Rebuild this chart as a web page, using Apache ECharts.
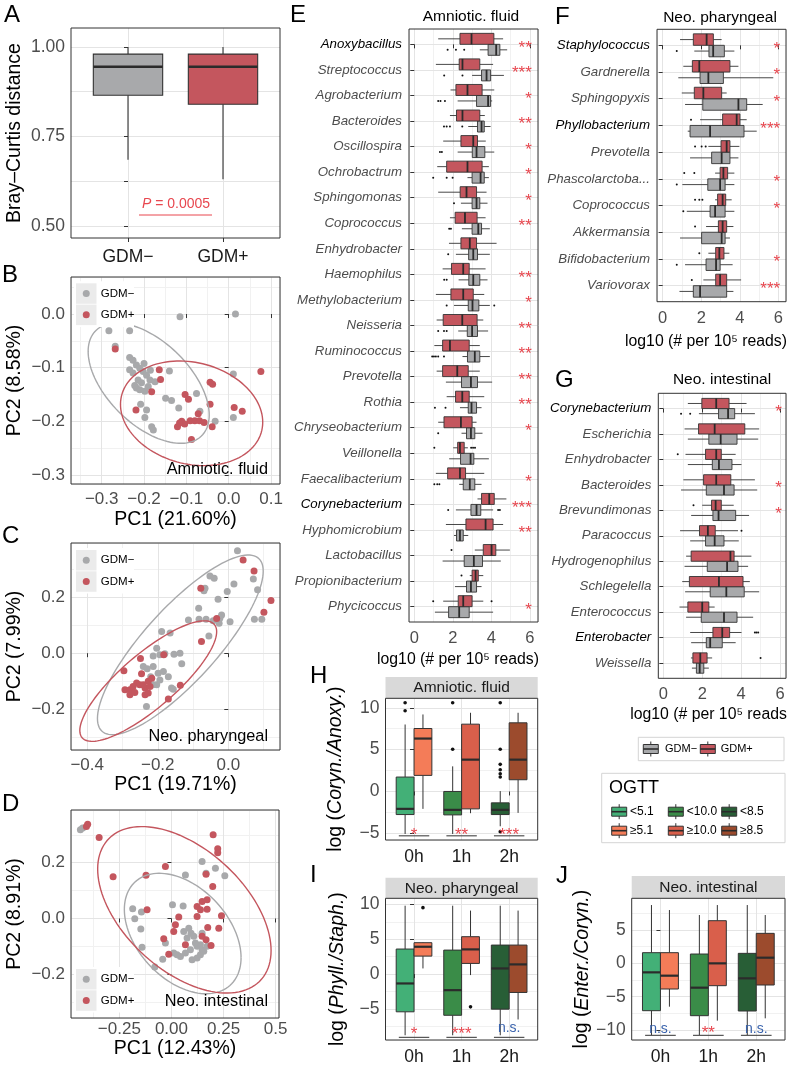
<!DOCTYPE html>
<html><head><meta charset="utf-8">
<script src="https://cdn.jsdelivr.net/npm/echarts@6/dist/echarts.min.js"></script>
<style>html,body{margin:0;padding:0;background:#fff}#c{width:787px;height:1070px}</style>
</head><body><div id="c"></div>
<script>
// ================= DATA =================
const gdmGroups = ['GDM−', 'GDM+'];
// Panel A : Bray-Curtis distance boxes [low, q1, median, q3, high]
const aBoxGdmNeg = [0.685, 0.865, 0.945, 0.98, 1.00];
const aBoxGdmPos = [0.63, 0.84, 0.945, 0.98, 1.00];
const aYTicks = [0.5, 0.625, 0.75, 0.875, 1.0];
const aYLabelTicks = [0.5, 0.75, 1.0];
const aYLabels = ['0.50', '0.75', '1.00'];
const aPText = '{i|P} = 0.0005';

// Panel B : PCoA amniotic fluid
const bGdmNeg = [[-0.115,-0.005],[0.016,0.0],[-0.283,-0.031],[-0.234,-0.031],[-0.268,-0.060],[-0.234,-0.081],[-0.226,-0.086],[-0.200,-0.092],[-0.218,-0.095],[-0.210,-0.101],[-0.234,-0.104],[-0.226,-0.110],[-0.202,-0.107],[-0.194,-0.114],[-0.214,-0.123],[-0.186,-0.123],[-0.174,-0.126],[-0.218,-0.138],[-0.210,-0.141],[-0.198,-0.144],[-0.190,-0.135],[-0.140,-0.106],[0.011,-0.112],[-0.149,-0.157],[-0.135,-0.161],[-0.076,-0.148],[-0.118,-0.175],[-0.068,-0.181],[-0.208,-0.168],[-0.194,-0.179],[-0.198,-0.193],[-0.182,-0.210],[-0.178,-0.216],[-0.032,-0.200],[0.011,-0.193],[-0.222,-0.133],[-0.206,-0.128],[-0.185,-0.105]];
const bGdmPos = [[-0.268,-0.065],[-0.164,-0.104],[-0.161,-0.122],[-0.182,-0.145],[-0.219,-0.179],[-0.103,-0.150],[-0.095,-0.159],[-0.044,-0.127],[-0.038,-0.131],[-0.044,-0.168],[0.076,-0.107],[0.013,-0.174],[0.032,-0.181],[-0.121,-0.210],[-0.111,-0.200],[-0.104,-0.205],[-0.116,-0.203],[-0.091,-0.199],[-0.080,-0.199],[-0.069,-0.199],[-0.072,-0.186],[-0.058,-0.202],[-0.039,-0.210],[-0.088,-0.234]];
// ellipse summaries [centerX, centerY, radiusX, radiusY, correlation]
const bEllipseNeg = [-0.189, -0.129, 0.143, 0.112, -0.53];
const bEllipsePos = [-0.0876, -0.185, 0.168, 0.0975, -0.17];
const bXTicks = [-0.3, -0.2, -0.1, 0, 0.1];
const bXTickLabels = ['−0.3', '−0.2', '−0.1', '0.0', '0.1'];
const bYTicks = [-0.3, -0.2, -0.1, 0];
const bYTickLabels = ['−0.3', '−0.2', '−0.1', '0.0'];

// Panel C : PCoA neonatal pharyngeal
const cGdmNeg = [[0.026,0.367],[-0.052,0.277],[-0.040,0.269],[-0.066,0.233],[-0.069,0.224],[0.071,0.266],[0.016,0.248],[-0.003,0.221],[0.083,0.227],[-0.029,0.193],[-0.084,0.161],[-0.019,0.137],[-0.024,0.125],[-0.113,0.119],[-0.083,0.122],[-0.063,0.122],[-0.043,0.116],[0.005,0.113],[-0.026,0.107],[0.074,0.122],[0.095,0.122],[-0.055,0.062],[-0.189,0.078],[-0.165,0.072],[-0.203,0.018],[-0.213,-0.010],[-0.194,-0.006],[-0.180,-0.002],[-0.154,-0.004],[-0.137,0.0],[-0.132,-0.038],[-0.241,-0.048],[-0.230,-0.056],[-0.213,-0.048],[-0.199,-0.072],[-0.184,-0.066],[-0.170,-0.084],[-0.194,-0.096],[-0.203,-0.113],[-0.161,-0.125],[-0.213,-0.113],[-0.232,-0.191],[-0.156,-0.129],[-0.220,-0.084]];
const cGdmPos = [[0.042,0.334],[0.073,0.295],[-0.078,0.233],[0.121,0.189],[0.101,0.147],[-0.033,0.124],[-0.076,0.042],[-0.183,-0.006],[-0.249,-0.019],[-0.296,-0.063],[-0.246,-0.074],[-0.260,-0.107],[-0.293,-0.131],[-0.279,-0.131],[-0.270,-0.119],[-0.251,-0.113],[-0.236,-0.125],[-0.227,-0.101],[-0.217,-0.090],[-0.236,-0.149],[-0.227,-0.143],[-0.279,-0.149],[-0.241,-0.113],[-0.222,-0.119],[-0.136,-0.115],[-0.170,-0.164],[-0.265,-0.141]];
const cEllipseNeg = [-0.136, 0.030, 0.235, 0.322, 0.82];
const cEllipsePos = [-0.227, -0.100, 0.194, 0.216, 0.82];
const cXTicks = [-0.4, -0.2, 0];
const cXTickLabels = ['−0.4', '−0.2', '0.0'];
const cYTicks = [-0.2, 0, 0.2];
const cYTickLabels = ['−0.2', '0.0', '0.2'];

// Panel D : PCoA neonatal intestinal
const dGdmNeg = [[-0.437,0.318],[-0.426,0.324],[0.147,0.204],[0.211,0.180],[0.256,0.153],[0.067,0.156],[0.166,0.162],[-0.186,0.035],[-0.176,-0.001],[-0.144,0.023],[-0.147,-0.038],[-0.141,-0.103],[0.005,0.049],[0.056,0.045],[0.059,-0.047],[0.083,-0.035],[0.094,-0.053],[0.107,-0.064],[0.075,-0.070],[-0.029,-0.088],[0.011,-0.124],[0.043,-0.136],[0.067,-0.124],[0.091,-0.112],[0.123,-0.100],[0.139,-0.094],[0.147,-0.112],[0.123,-0.142],[0.099,-0.148],[0.139,-0.130],[0.155,-0.118],[0.171,-0.100],[-0.042,-0.146],[-0.080,-0.174],[0.147,-0.053],[0.027,-0.130],[0.115,-0.088]];
const dGdmPos = [[-0.408,0.330],[-0.402,0.338],[-0.347,0.290],[-0.280,0.150],[-0.122,0.155],[-0.029,0.186],[0.200,0.300],[0.222,0.250],[0.222,0.236],[0.166,0.159],[0.198,0.115],[0.147,0.061],[0.171,0.067],[0.123,0.043],[0.139,0.031],[0.171,0.033],[0.123,0.007],[0.240,0.010],[-0.117,0.031],[0.035,0.005],[0.019,-0.023],[0.011,-0.047],[-0.037,-0.073],[0.174,-0.032],[0.227,-0.035],[0.147,-0.064],[0.166,-0.076],[0.190,-0.097],[0.067,-0.094],[-0.013,-0.128]];
const dEllipseNeg = [0.054, -0.054, 0.28, 0.216, -0.40];
const dEllipsePos = [0.062, 0.031, 0.416, 0.2985, -0.49];
const dXTicks = [-0.25, 0, 0.25, 0.5];
const dXTickLabels = ['−0.25', '0.00', '0.25', '0.5'];
const dYTicks = [-0.2, 0, 0.2];
const dYTickLabels = ['−0.2', '0.0', '0.2'];

// Abundance axis (E, F, G)
const abundTicks = [0, 2, 4, 6];
const abundTickLabels = ['0', '2', '4', '6'];

// Panel E : amniotic fluid genera, boxes [low, q1, median, q3, high]
const eGenera = ['Anoxybacillus','Streptococcus','Agrobacterium','Bacteroides','Oscillospira','Ochrobactrum','Sphingomonas','Coprococcus','Enhydrobacter','Haemophilus','Methylobacterium','Neisseria','Ruminococcus','Prevotella','Rothia','Chryseobacterium','Veillonella','Faecalibacterium','Corynebacterium','Hyphomicrobium','Lactobacillus','Propionibacterium','Phycicoccus'];
const eHighlight = ['Anoxybacillus', 'Corynebacterium'];
const eGdmPos = [[1.24,2.37,2.97,4.13,4.61],[1.12,2.33,2.50,3.40,4.09],[1.88,2.16,2.76,3.52,4.15],[1.85,2.19,2.50,3.40,3.66],[1.50,2.42,3.06,3.28,3.71],[1.19,1.68,2.76,3.52,3.87],[1.24,2.38,2.71,3.23,3.75],[1.85,2.12,2.63,3.26,3.70],[1.80,2.42,2.88,3.23,4.27],[1.47,1.93,2.54,2.85,3.70],[1.12,1.90,2.54,3.06,3.63],[1.16,1.50,2.49,3.26,3.58],[1.04,1.47,1.85,2.85,3.40],[1.16,1.47,2.23,2.80,3.40],[1.68,2.14,2.49,2.85,3.63],[1.24,1.54,2.42,3.00,3.23],[2.02,2.25,2.37,2.59,2.78],[1.12,1.73,2.37,2.66,3.63],[3.28,3.49,3.89,4.15,4.78],[1.64,2.68,3.70,4.09,4.61],[3.14,3.58,4.01,4.23,4.96],[2.88,3.00,3.18,3.32,3.58],[1.50,2.28,2.54,3.00,3.58]];
const eGdmNeg = [[3.40,3.83,4.25,4.44,4.82],[3.00,3.49,3.75,3.96,4.65],[2.25,3.23,3.83,3.96,4.04],[2.80,3.28,3.49,3.63,3.96],[2.25,3.01,3.23,3.66,4.15],[2.76,3.00,3.44,3.63,3.87],[2.42,3.00,3.23,3.40,3.80],[2.47,3.00,3.32,3.49,3.92],[2.16,2.82,3.06,3.28,3.92],[2.30,2.83,3.06,3.40,3.80],[2.06,2.80,3.02,3.35,3.92],[2.28,2.75,3.00,3.28,3.83],[2.50,2.76,3.14,3.40,3.92],[1.64,2.45,2.94,3.28,4.04],[2.37,2.80,2.97,3.23,3.49],[2.45,2.71,2.94,3.14,3.54],[1.81,2.40,2.92,3.09,3.87],[2.33,2.54,2.88,3.14,3.49],[2.16,2.94,3.23,3.45,4.09],[2.06,2.19,2.37,2.54,2.80],[1.47,2.59,3.09,3.54,4.49],[2.11,2.71,2.94,3.23,3.49],[1.07,1.78,2.33,2.85,4.09]];
const eOutPos = [[16,1.04],[16,2.95],[16,3.05],[16,3.15],[20,1.93],[21,2.45],[22,0.98],[22,4.01]];
const eOutNeg = [[0,1.73],[0,2.16],[0,2.59],[1,1.55],[1,2.50],[2,1.24],[2,1.36],[2,1.59],[3,1.54],[3,1.68],[3,1.85],[3,2.49],[4,1.33],[4,1.43],[5,0.98],[5,1.68],[5,1.99],[6,2.06],[7,1.81],[7,1.90],[8,1.76],[9,1.55],[9,1.68],[10,1.68],[10,4.15],[11,1.24],[11,1.54],[11,1.68],[12,0.93],[12,1.02],[12,1.12],[12,1.24],[12,1.54],[14,1.07],[14,1.62],[15,1.24],[17,1.04],[17,1.19],[17,1.30],[18,1.76],[18,4.35],[18,4.44]];
const eStars = ['**','***','*','**','*','*','*','**','','**','*','**','**','**','**','*','','*','***','**','','','*'];

// Panel F : neonatal pharyngeal genera
const fGenera = ['Staphylococcus','Gardnerella','Sphingopyxis','Phyllobacterium','Prevotella','Phascolarctoba...','Coprococcus','Akkermansia','Bifidobacterium','Variovorax'];
const fHighlight = ['Staphylococcus', 'Phyllobacterium'];
const fGdmPos = [[0.90,1.59,2.28,2.63,3.06],[1.07,1.54,1.90,3.49,3.93],[0.99,1.64,2.11,3.06,3.32],[1.94,3.11,3.84,4.01,4.36],[2.37,3.03,3.32,3.49,3.98],[2.72,2.98,3.15,3.37,3.72],[2.72,2.85,3.11,3.27,3.58],[2.25,2.89,3.11,3.32,3.67],[2.37,2.75,2.94,3.18,3.46],[2.11,2.75,2.98,3.32,4.07]];
const fGdmNeg = [[1.64,2.40,2.62,3.20,3.72],[0.81,1.94,2.37,3.15,5.74],[1.16,2.08,3.93,4.36,5.19],[1.30,1.42,2.46,4.22,4.88],[1.42,2.54,3.06,3.49,3.93],[1.02,2.34,2.98,3.24,3.72],[1.25,2.46,2.72,3.24,3.72],[0.90,2.02,3.06,3.24,3.49],[1.16,2.25,2.77,2.98,3.63],[0.87,1.59,1.94,3.32,3.67]];
const fOutPos = [[3,1.47],[4,1.68],[4,2.02],[4,2.23],[5,1.12],[5,1.64],[6,1.68],[6,1.90],[6,2.06],[7,1.68],[8,1.90],[9,1.51]];
const fOutNeg = [[0,0.73],[5,0.73],[6,1.07],[8,0.73]];
const fStars = ['*','*','*','***','','*','*','','*','***'];

// Panel G : neonatal intestinal genera
const gGenera = ['Corynebacterium','Escherichia','Enhydrobacter','Bacteroides','Brevundimonas','Paracoccus','Hydrogenophilus','Schlegelella','Enterococcus','Enterobacter','Weissella'];
const gHighlight = ['Corynebacterium', 'Enterobacter'];
const gGdmPos = [[1.26,1.98,2.72,3.38,4.28],[1.09,1.81,2.64,4.19,4.93],[1.14,2.17,2.72,2.98,3.72],[1.03,2.07,2.72,3.47,4.71],[2.00,2.48,2.69,2.98,3.62],[0.86,1.86,2.29,2.67,3.84],[1.17,1.43,3.45,3.64,4.53],[0.97,1.34,2.86,4.10,4.45],[0.83,1.26,2.00,2.34,2.64],[1.38,2.55,3.03,3.41,4.02],[1.42,1.52,1.90,2.25,2.51]];
const gGdmNeg = [[1.83,2.84,3.33,3.67,4.71],[1.26,2.34,2.95,3.79,4.88],[1.26,2.52,2.86,3.53,4.02],[0.91,2.21,3.12,3.64,4.83],[1.43,2.55,2.84,3.72,4.41],[1.38,2.17,2.64,3.12,3.88],[1.09,2.26,3.28,3.84,4.36],[1.12,2.41,3.24,4.16,4.93],[1.17,1.95,3.12,3.79,4.62],[1.43,2.21,2.41,3.03,3.72],[1.47,1.70,1.87,2.08,2.34]];
const gOutPos = [[2,0.74],[4,1.55],[5,4.02],[9,4.71],[9,4.79],[9,4.88],[10,5.0]];
const gOutNeg = [[0,0.91],[0,1.38]];
const gStars = ['*','','','*','*','','','','','',''];

// OGTT panels H, I, J
const ogttTimes = ['0h', '1h', '2h'];
const ogttLowLabels = ['<5.1', '<10.0', '<8.5'];
const ogttHighLabels = ['≥5.1', '≥10.0', '≥8.5'];
const hLow  = [[-5.08,-2.76,-2.08,1.72,8.0],[-5.08,-2.8,-2.2,0.0,3.0],[-4.16,-2.76,-2.2,-1.36,0.04]];
const hHigh = [[-2.08,1.92,6.32,7.52,9.2],[-2.6,-2.08,3.8,8.04,9.4],[-2.56,1.4,3.8,8.2,9.4]];
const hOutLow = [[0,10.6],[0,9.64],[1,10.6],[1,5.04],[2,10.6],[2,5.04],[2,3.24],[2,2.6],[2,2.12],[2,1.72],[2,-4.8]];
const hSig = ['*', '**', '***'];
const hYTicks = [-5, 0, 5, 10];
const hYTickLabels = ['−5', '0', '5', '10'];
const iLow  = [[-8.76,-5.4,-1.34,3.59,9.8],[-8.76,-5.9,-2.3,3.44,9.8],[-8.76,-5.02,0.81,4.16,9.8]];
const iHigh = [[0.81,2.58,3.92,4.5,4.55],[-0.14,1.53,3.54,5.36,9.1],[-6.5,-2.63,1.39,4.16,9.1]];
const iOutHigh = [[0,9.52],[1,-4.69]];
const iSig = ['*', '***', 'n.s.'];
const iYTicks = [-5, 0, 5, 10];
const iYTickLabels = ['−5', '0', '5', '10'];
const jLow  = [[-10.75,-7.1,-1.35,1.6,8.75],[-10.75,-7.85,-3.65,1.4,7.25],[-10.75,-7.15,-2.25,1.5,8.75]];
const jHigh = [[-6.5,-3.85,-1.85,1.6,8.0],[-8.6,-3.35,0.0,6.4,8.75],[-8.25,-3.25,0.85,4.5,7.25]];
const jSig = ['n.s.', '**', 'n.s.'];
const jYTicks = [-10, -5, 0, 5];
const jYTickLabels = ['−10', '−5', '0', '5'];

// ================= STYLE =================
const FONT = '"Liberation Sans", Arial, Helvetica, sans-serif';
const RED = '#C4565E', GRAY = '#A8A9AB', STAR = '#E8474F', NS = '#3B64AD';
const OGTT_LOW = ['#43B077', '#3A8C48', '#285E36'];
const OGTT_HIGH = ['#F47C58', '#D95F4B', '#9C4B2D'];
const MAJOR = '#e4e4e4', MINOR = '#f1f1f1';

const grids = [], xAxis = [], yAxis = [], series = [], graphic = [];

function fmtFrom(ticks, labels) {
  return v => { const i = ticks.findIndex(t => Math.abs(t - v) < 1e-7); return i < 0 ? '' : labels[i]; };
}
function makeAxis(gi, o, position) {
  const lt = o.labelTicks || o.ticks;
  return {
    type: 'value', gridIndex: gi, position, min: o.min, max: o.max, inverse: !!o.inverse, z: 2,
    minInterval: o.step, maxInterval: o.step,
    axisLine: { show: false },
    axisTick: { show: true, length: 4, customValues: o.ticks, lineStyle: { color: '#333', width: 1 } },
    axisLabel: { show: true, customValues: lt, formatter: fmtFrom(lt, o.labels), color: o.color || '#4d4d4d',
      fontSize: o.fontSize || 17, fontFamily: FONT, margin: o.margin == null ? 6 : o.margin, rich: o.rich },
    splitLine: { show: true, lineStyle: { color: MAJOR, width: 1 } },
    minorTick: { show: false }, minorSplitLine: { show: false },
    name: o.name || '', nameLocation: 'middle', nameGap: o.nameGap || 0, nameRotate: o.nameRotate,
    nameTextStyle: { color: '#000', fontSize: o.nameSize || 19.5, fontFamily: FONT, rich: o.nameRich, padding: o.namePadding || 0 }
  };
}
function minorAxis(gi, o, position) {
  return { type: 'value', gridIndex: gi, position, min: o.min, max: o.max, inverse: !!o.inverse, z: 1,
    minInterval: o.minor, maxInterval: o.minor,
    axisLine: { show: false }, axisTick: { show: false }, axisLabel: { show: false },
    splitLine: { show: true, lineStyle: { color: MINOR, width: 1 } } };
}
function panel(box, xo, yo) {
  const gi = grids.length;
  grids.push({ left: box.left, top: box.top, width: box.width, height: box.height, show: false,
    containLabel: false, outerBoundsMode: 'none' });
  const xi = xAxis.length; xAxis.push(makeAxis(gi, xo, 'bottom'));
  const yi = yAxis.length; yAxis.push(makeAxis(gi, yo, 'left'));
  if (xo.minor) xAxis.push(minorAxis(gi, xo, 'top'));
  if (yo.minor) yAxis.push(minorAxis(gi, yo, 'right'));
  graphic.push({ type: 'rect', z: 100, silent: true,
    shape: { x: box.left, y: box.top, width: box.width, height: box.height },
    style: { fill: 'none', stroke: '#333', lineWidth: 1 } });
  return { xi, yi };
}
function boxSeries(P, rows, o) {
  return {
    type: 'custom', xAxisIndex: P.xi, yAxisIndex: P.yi, z: 3, silent: true,
    encode: o.horizontal ? { x: [1, 2, 3, 4, 5], y: 0 } : { x: 0, y: [1, 2, 3, 4, 5] },
    data: rows.map((r, i) => [i].concat(r)),
    renderItem(params, api) {
      const idx = api.value(0);
      const pos = idx + o.offset;
      const pt = v => o.horizontal ? api.coord([v, pos]) : api.coord([pos, v]);
      const sz = o.horizontal ? api.size([0, o.width])[1] : api.size([o.width, 0])[0];
      const h = sz / 2;
      const lo = pt(api.value(1)), q1 = pt(api.value(2)), md = pt(api.value(3)), q3 = pt(api.value(4)), hi = pt(api.value(5));
      const fill = typeof o.fill === 'function' ? o.fill(Math.round(idx)) : o.fill;
      const lw = o.lineWidth || 1;
      const ls = { stroke: '#333', lineWidth: lw };
      const ms = { stroke: '#2b2b2b', lineWidth: o.medianWidth || 2 };
      const ch = [];
      if (o.horizontal) {
        const c = md[1];
        ch.push({ type: 'line', shape: { x1: lo[0], y1: c, x2: q1[0], y2: c }, style: ls });
        ch.push({ type: 'line', shape: { x1: q3[0], y1: c, x2: hi[0], y2: c }, style: ls });
        ch.push({ type: 'rect', shape: { x: q1[0], y: c - h, width: q3[0] - q1[0], height: 2 * h }, style: { fill, stroke: '#333', lineWidth: lw } });
        ch.push({ type: 'line', shape: { x1: md[0], y1: c - h, x2: md[0], y2: c + h }, style: ms });
      } else {
        const c = md[0];
        ch.push({ type: 'line', shape: { x1: c, y1: lo[1], x2: c, y2: q1[1] }, style: ls });
        ch.push({ type: 'line', shape: { x1: c, y1: q3[1], x2: c, y2: hi[1] }, style: ls });
        ch.push({ type: 'rect', shape: { x: c - h, y: q3[1], width: 2 * h, height: q1[1] - q3[1] }, style: { fill, stroke: '#333', lineWidth: lw } });
        ch.push({ type: 'line', shape: { x1: c - h, y1: md[1], x2: c + h, y2: md[1] }, style: ms });
      }
      return { type: 'group', children: ch };
    }
  };
}
function outlierSeries(P, pts, o) {
  return {
    type: 'custom', xAxisIndex: P.xi, yAxisIndex: P.yi, z: 4, silent: true,
    encode: o.horizontal ? { x: 1, y: 0 } : { x: 0, y: 1 }, data: pts,
    renderItem(params, api) {
      const pos = api.value(0) + o.offset, v = api.value(1);
      const p = o.horizontal ? api.coord([v, pos]) : api.coord([pos, v]);
      return { type: 'circle', shape: { cx: p[0], cy: p[1], r: o.r }, style: { fill: '#111' } };
    }
  };
}
function starSeries(P, stars, xPos) {
  const data = []; stars.forEach((s, i) => { if (s) data.push([xPos, i]); });
  return {
    type: 'custom', xAxisIndex: P.xi, yAxisIndex: P.yi, z: 5, silent: true, encode: { x: 0, y: 1 }, data,
    renderItem(params, api) {
      const i = Math.round(api.value(1));
      const p = api.coord([api.value(0), i]);
      return { type: 'text', x: p[0], y: p[1] + 3.5,
        style: { text: stars[i], fill: STAR, fontSize: 17, fontFamily: FONT, align: 'right', verticalAlign: 'middle' } };
    }
  };
}
function sigSeries(P, labels, lineY, starDy, nsDy) {
  return {
    type: 'custom', xAxisIndex: P.xi, yAxisIndex: P.yi, z: 5, silent: true, encode: { x: 0, y: 1 },
    data: labels.map((s, i) => [i, lineY]),
    renderItem(params, api) {
      const i = Math.round(api.value(0));
      const a = api.coord([i - 0.32, api.value(1)]), b = api.coord([i + 0.32, api.value(1)]);
      const lab = labels[i], ns = lab === 'n.s.';
      return { type: 'group', children: [
        { type: 'line', shape: { x1: a[0], y1: a[1], x2: b[0], y2: b[1] }, style: { stroke: '#444', lineWidth: 1.1 } },
        { type: 'text', x: (a[0] + b[0]) / 2, y: a[1] + (ns ? nsDy : starDy),
          style: { text: lab, fill: ns ? NS : STAR, fontSize: ns ? 14 : 17, fontFamily: FONT, align: 'center', verticalAlign: 'middle' } }
      ] };
    }
  };
}
function scatterSeries(P, pts, color) {
  return { type: 'scatter', xAxisIndex: P.xi, yAxisIndex: P.yi, data: pts, symbol: 'circle', symbolSize: 7,
    itemStyle: { color, opacity: 1 }, z: 3, silent: true };
}
function ellipseSeries(P, par, color) {
  return {
    type: 'custom', xAxisIndex: P.xi, yAxisIndex: P.yi, z: 4, silent: true, encode: { x: 0, y: 1 }, data: [par],
    renderItem(params, api) {
      const cx = api.value(0), cy = api.value(1), rx = api.value(2), ry = api.value(3), rho = api.value(4);
      const s = Math.sqrt(1 - rho * rho), pts = [];
      for (let k = 0; k <= 120; k++) {
        const t = 2 * Math.PI * k / 120;
        pts.push(api.coord([cx + rx * Math.cos(t), cy + ry * (rho * Math.cos(t) + s * Math.sin(t))]));
      }
      return { type: 'polyline', shape: { points: pts }, style: { stroke: color, lineWidth: 1.4, fill: null } };
    }
  };
}
const range = n => Array.from({ length: n }, (_, i) => i);
const RICH_NAMES = {
  b: { color: '#000', fontStyle: 'italic', fontSize: 13.3, fontFamily: FONT },
  g: { color: '#4d4d4d', fontStyle: 'italic', fontSize: 13.3, fontFamily: FONT }
};
const richNames = (names, hl) => names.map(n => hl.includes(n) ? '{b|' + n + '}' : '{g|' + n + '}');
const ITAL19 = { i: { fontStyle: 'italic', fontSize: 19.5, color: '#000', fontFamily: FONT } };

// ================= PANELS =================
const BOX = {
  A: { left: 71, top: 28, width: 209, height: 210 },
  B: { left: 71, top: 277, width: 209, height: 207 },
  C: { left: 71, top: 543, width: 209, height: 207 },
  D: { left: 71, top: 810, width: 208, height: 208 },
  E: { left: 409, top: 29, width: 129, height: 593 },
  F: { left: 657, top: 29.3, width: 129, height: 272.4 },
  G: { left: 658.3, top: 393.3, width: 127.7, height: 285 },
  H: { left: 385.5, top: 698.3, width: 152.2, height: 141.7 },
  I: { left: 385.5, top: 898.3, width: 152.2, height: 141.7 },
  J: { left: 631.7, top: 898.3, width: 153.3, height: 141.7 }
};

// A
const PA = panel(BOX.A,
  { min: -0.6, max: 1.6, step: 1, ticks: [0, 1], labels: gdmGroups, color: '#1a1a1a', fontSize: 17.5, margin: 10 },
  { min: 0.466, max: 1.053, step: 0.125, ticks: aYTicks, labelTicks: aYLabelTicks, labels: aYLabels, fontSize: 17.5, margin: 6,
    name: 'Bray–Curtis distance', nameGap: 46, nameRotate: 90 });
series.push(boxSeries(PA, [aBoxGdmNeg, aBoxGdmPos], { horizontal: false, offset: 0, width: 0.73, fill: i => [GRAY, RED][i], lineWidth: 1.1, medianWidth: 2.5 }));

// B, C, D
const PB = panel(BOX.B,
  { min: -0.3725, max: 0.1212, step: 0.1, minor: 0.05, ticks: bXTicks, labels: bXTickLabels, margin: 7, name: 'PC1 (21.60%)', nameGap: 26 },
  { min: -0.3168, max: 0.069, step: 0.1, minor: 0.05, ticks: bYTicks, labels: bYTickLabels, margin: 6, name: 'PC2 (8.58%)', nameGap: 46, nameRotate: 90 });
series.push(scatterSeries(PB, bGdmNeg, GRAY), scatterSeries(PB, bGdmPos, RED), ellipseSeries(PB, bEllipseNeg, GRAY), ellipseSeries(PB, bEllipsePos, RED));
const PC = panel(BOX.C,
  { min: -0.446, max: 0.1466, step: 0.2, minor: 0.1, ticks: cXTicks, labels: cXTickLabels, margin: 7, name: 'PC1 (19.71%)', nameGap: 23 },
  { min: -0.347, max: 0.395, step: 0.2, minor: 0.1, ticks: cYTicks, labels: cYTickLabels, margin: 6, name: 'PC2 (7.99%)', nameGap: 46, nameRotate: 90 });
series.push(scatterSeries(PC, cGdmNeg, GRAY), scatterSeries(PC, cGdmPos, RED), ellipseSeries(PC, cEllipseNeg, GRAY), ellipseSeries(PC, cEllipsePos, RED));
const PD = panel(BOX.D,
  { min: -0.482, max: 0.516, step: 0.25, minor: 0.125, ticks: dXTicks, labels: dXTickLabels, margin: 3, name: 'PC1 (12.43%)', nameGap: 20 },
  { min: -0.357, max: 0.389, step: 0.2, minor: 0.1, ticks: dYTicks, labels: dYTickLabels, margin: 6, name: 'PC2 (8.91%)', nameGap: 46, nameRotate: 90 });
series.push(scatterSeries(PD, dGdmNeg, GRAY), scatterSeries(PD, dGdmPos, RED), ellipseSeries(PD, dEllipseNeg, GRAY), ellipseSeries(PD, dEllipsePos, RED));

// E, F, G
const ABX = 'log10 (# per 10⁵ reads)';
function generaPanel(box, xr, names, hl, pos, neg, outPos, outNeg, stars, w, nameGap, padR) {
  const P = panel(box,
    { min: xr[0], max: xr[1], step: 2, minor: 1, ticks: abundTicks, labels: abundTickLabels, fontSize: 16.5, margin: 8,
      name: ABX, nameGap, nameSize: 15.8, namePadding: [0, padR, 0, 0] },
    { min: -0.6, max: names.length - 0.4, inverse: true, step: 1, ticks: range(names.length), labels: richNames(names, hl), rich: RICH_NAMES, margin: 7 });
  series.push(boxSeries(P, neg, { horizontal: true, offset: w / 2, width: w, fill: GRAY, lineWidth: 0.9, medianWidth: 1.8 }));
  series.push(boxSeries(P, pos, { horizontal: true, offset: -w / 2, width: w, fill: RED, lineWidth: 0.9, medianWidth: 1.8 }));
  series.push(outlierSeries(P, outNeg, { horizontal: true, offset: w / 2, r: 1.0 }));
  series.push(outlierSeries(P, outPos, { horizontal: true, offset: -w / 2, r: 1.0 }));
  series.push(starSeries(P, stars, 6.1));
}
generaPanel(BOX.E, [-0.275, 6.42], eGenera, eHighlight, eGdmPos, eGdmNeg, eOutPos, eOutNeg, eStars, 0.43, 28, 31);
generaPanel(BOX.F, [-0.296, 6.40], fGenera, fHighlight, fGdmPos, fGdmNeg, fOutPos, fOutNeg, fStars, 0.43, 32, 31);
generaPanel(BOX.G, [-0.26, 6.31], gGenera, gHighlight, gGdmPos, gGdmNeg, gOutPos, gOutNeg, gStars, 0.40, 28, 22);

// H, I, J
function ogttPanel(box, yr, ticks, labels, low, high, name, nameGap) {
  const P = panel(box,
    { min: -0.6, max: 2.6, step: 1, ticks: [0, 1, 2], labels: ogttTimes, color: '#1a1a1a', fontSize: 17.5, margin: 8 },
    { min: yr[0], max: yr[1], step: 5, minor: 2.5, ticks, labels, fontSize: 17.5, margin: 6, name, nameRich: ITAL19, nameGap, nameRotate: 90 });
  series.push(boxSeries(P, low, { horizontal: false, offset: -0.1875, width: 0.375, fill: i => OGTT_LOW[i], lineWidth: 1, medianWidth: 2.2 }));
  series.push(boxSeries(P, high, { horizontal: false, offset: 0.1875, width: 0.375, fill: i => OGTT_HIGH[i], lineWidth: 1, medianWidth: 2.2 }));
  return P;
}
const PH = ogttPanel(BOX.H, [-5.8, 11.13], hYTicks, hYTickLabels, hLow, hHigh, 'log ({i|Coryn./Anoxy.})', 40);
series.push(outlierSeries(PH, hOutLow, { horizontal: false, offset: -0.1875, r: 1.8 }));
series.push(sigSeries(PH, hSig, -5.3, -1, -7));
const PI = ogttPanel(BOX.I, [-9.44, 10.86], iYTicks, iYTickLabels, iLow, iHigh, 'log ({i|Phyll./Staph.})', 38);
series.push(outlierSeries(PI, iOutHigh, { horizontal: false, offset: 0.1875, r: 1.8 }));
series.push(sigSeries(PI, iSig, -9.06, -3, -9));
const PJ = ogttPanel(BOX.J, [-11.5, 9.76], jYTicks, jYTickLabels, jLow, jHigh, 'log ({i|Enter./Coryn.})', 35);
series.push(sigSeries(PJ, jSig, -10.8, -2, -6.5));

// ================= ANNOTATIONS =================
function txt(x, y, text, size, extra) {
  return Object.assign({ type: 'text', x, y, z: 60, silent: true,
    style: Object.assign({ text, fill: '#000', fontSize: size, fontFamily: FONT, align: 'left', verticalAlign: 'middle' }, extra || {}) });
}
// panel letters
[['A', 4, 15], ['B', 2, 275], ['C', 2, 536], ['D', 2, 804], ['E', 290, 15], ['F', 555, 17.5],
 ['G', 555, 380], ['H', 310, 676], ['I', 310, 875], ['J', 556, 876]].forEach(l => graphic.push(txt(l[1], l[2], l[0], 24)));
// titles
graphic.push(txt(471, 17, 'Amniotic. fluid', 15.5, { align: 'center' }));
graphic.push(txt(720, 18, 'Neo. pharyngeal', 15.5, { align: 'center' }));
graphic.push(txt(722, 380, 'Neo. intestinal', 15.5, { align: 'center' }));
// in-plot labels
graphic.push(txt(268, 470, 'Amniotic. fluid', 16.3, { align: 'right' }));
graphic.push(txt(268, 737, 'Neo. pharyngeal', 16.3, { align: 'right' }));
graphic.push(txt(268, 1002, 'Neo. intestinal', 16.3, { align: 'right' }));
// P value in A
graphic.push(txt(176, 204, aPText, 14, { align: 'center', fill: STAR,
  rich: { i: { fontStyle: 'italic', fontSize: 14, fill: STAR, color: STAR, fontFamily: FONT } } }));
graphic.push({ type: 'line', z: 60, silent: true, shape: { x1: 139, y1: 215, x2: 212, y2: 215 }, style: { stroke: STAR, lineWidth: 1 } });
// strips
[[BOX.H, 'Amniotic. fluid', 677], [BOX.I, 'Neo. pharyngeal', 877.7], [BOX.J, 'Neo. intestinal', 876]].forEach(s => {
  const b = s[0];
  graphic.push({ type: 'rect', z: 55, silent: true, shape: { x: b.left, y: s[2], width: b.width, height: b.top - s[2] }, style: { fill: '#d9d9d9' } });
  graphic.push(txt(b.left + b.width / 2, (s[2] + b.top) / 2 + 0.5, s[1], 15.5, { align: 'center', fill: '#1a1a1a' }));
});
// scatter legends
function scatterLegend(x0, y0) {
  const cell = 21.3;
  graphic.push({ type: 'rect', z: 50, silent: true, shape: { x: x0 - 2, y: y0 - 2, width: 60, height: 2 * cell + 3 }, style: { fill: '#fff' } });
  gdmGroups.forEach((g, k) => {
    const cy = y0 + k * cell;
    graphic.push({ type: 'rect', z: 51, silent: true, shape: { x: x0, y: cy, width: cell - 0.8, height: cell - 0.8 }, style: { fill: '#ebebeb' } });
    graphic.push({ type: 'circle', z: 52, silent: true, shape: { cx: x0 + cell / 2 - 0.4, cy: cy + cell / 2 - 0.4, r: 3.5 }, style: { fill: k ? RED : GRAY } });
    graphic.push(txt(x0 + cell + 3.5, cy + cell / 2 - 0.4, g, 11.5));
  });
}
scatterLegend(76, 283.3); scatterLegend(76, 550); scatterLegend(76, 969);
// box legend icons
function boxIcon(cx, cy, fill) {
  const st = { stroke: '#333', lineWidth: 1 };
  graphic.push({ type: 'line', z: 61, silent: true, shape: { x1: cx, y1: cy - 7.5, x2: cx, y2: cy + 7.5 }, style: st });
  graphic.push({ type: 'rect', z: 62, silent: true, shape: { x: cx - 7.5, y: cy - 4.5, width: 15, height: 9 }, style: { fill, stroke: '#333', lineWidth: 1 } });
  graphic.push({ type: 'line', z: 63, silent: true, shape: { x1: cx - 7.5, y1: cy, x2: cx + 7.5, y2: cy }, style: { stroke: '#2b2b2b', lineWidth: 1.6 } });
}
graphic.push({ type: 'rect', z: 58, silent: true, shape: { x: 638.3, y: 737.3, width: 145.7, height: 23.4 }, style: { fill: '#fff', stroke: '#d4d4d4', lineWidth: 1 } });
boxIcon(650.8, 749, GRAY); graphic.push(txt(665, 749, gdmGroups[0], 11));
boxIcon(707.8, 749, RED); graphic.push(txt(720.7, 749, gdmGroups[1], 11));
graphic.push({ type: 'rect', z: 58, silent: true, shape: { x: 601.7, y: 773.3, width: 183.3, height: 69.4 }, style: { fill: '#fff', stroke: '#d4d4d4', lineWidth: 1 } });
graphic.push(txt(609, 788, 'OGTT', 18));
const legCols = [619.2, 675.8, 729.2], legTextX = [630, 686.7, 740];
ogttTimes.forEach((t, k) => {
  boxIcon(legCols[k], 811.7, OGTT_LOW[k]); graphic.push(txt(legTextX[k], 811.7, ogttLowLabels[k], 12));
  boxIcon(legCols[k], 830.7, OGTT_HIGH[k]); graphic.push(txt(legTextX[k], 830.7, ogttHighLabels[k], 12));
});

const chart = echarts.init(document.getElementById('c'), null, { renderer: 'canvas', width: 787, height: 1070 });
chart.setOption({
  animation: false, backgroundColor: '#fff', textStyle: { fontFamily: FONT },
  grid: grids, xAxis, yAxis, series, graphic
});
</script></body></html>
